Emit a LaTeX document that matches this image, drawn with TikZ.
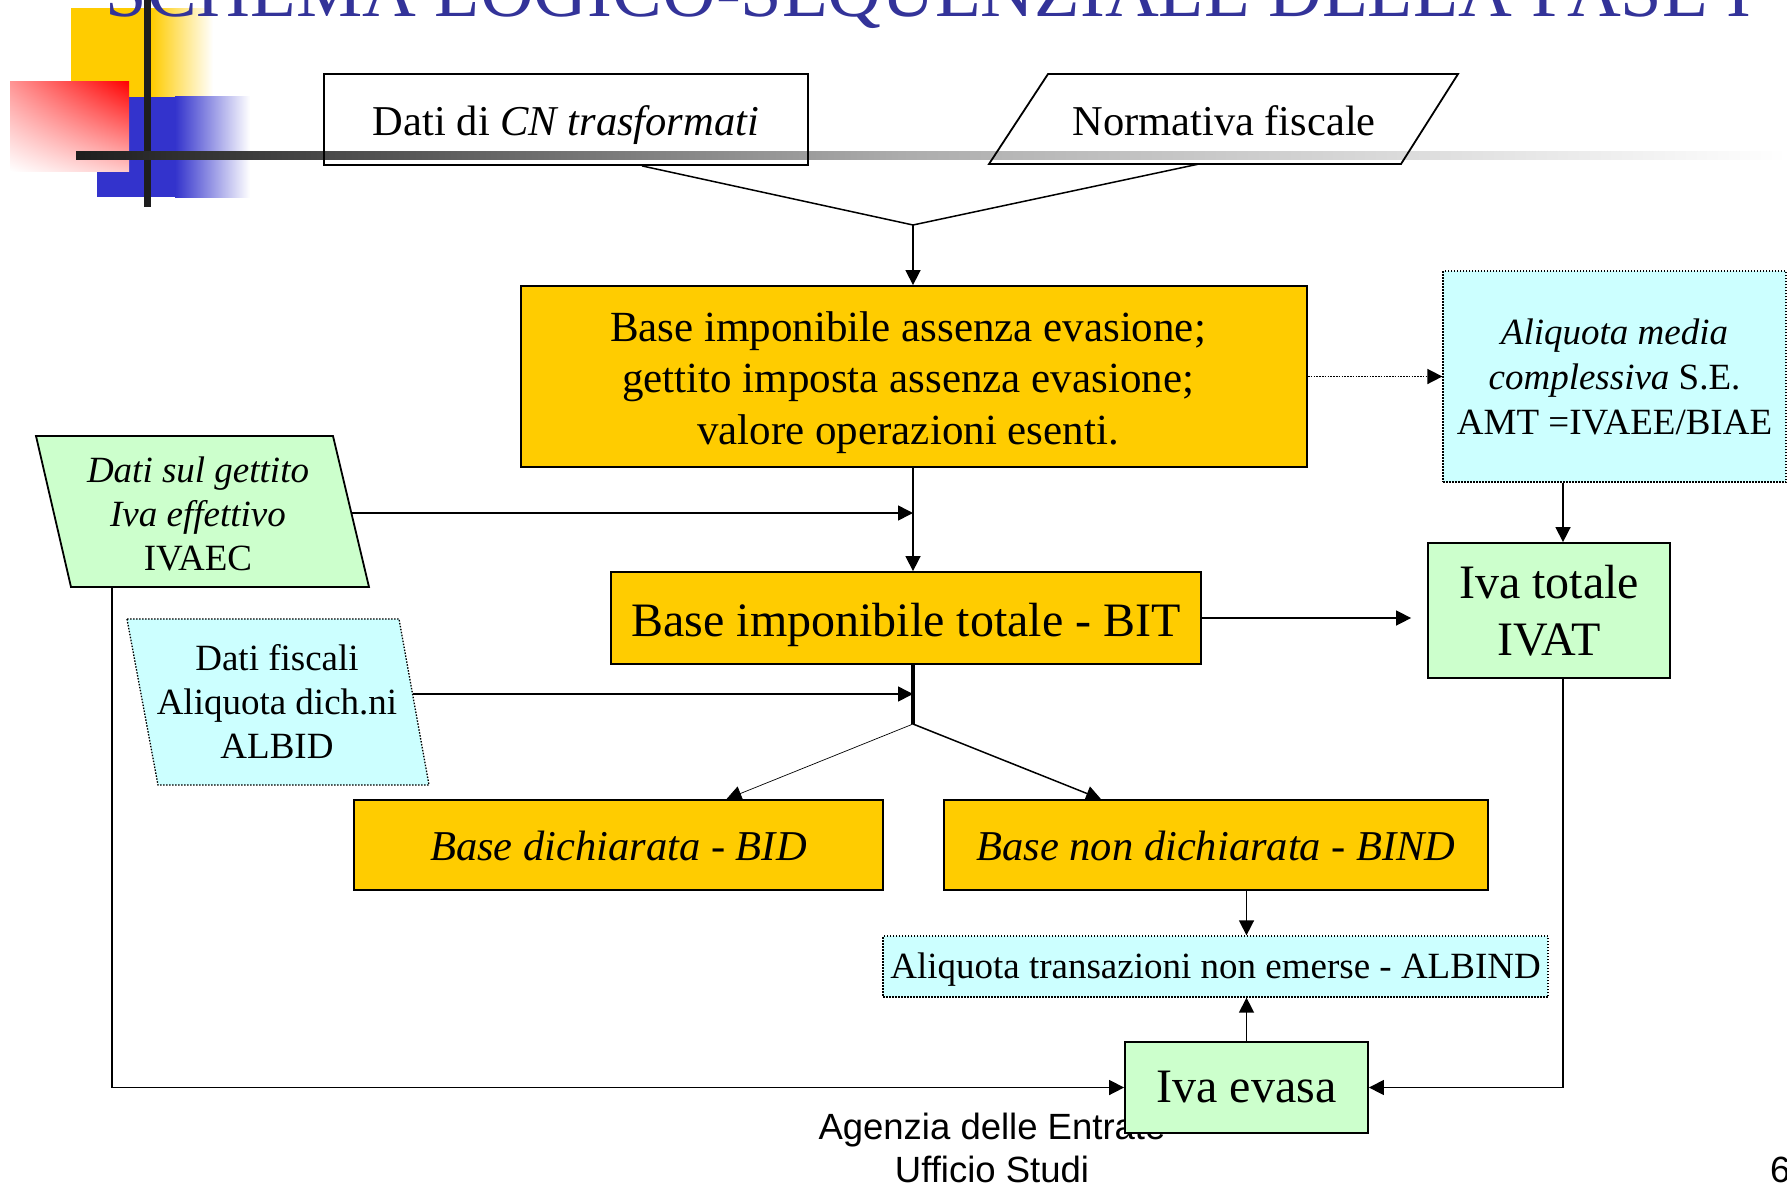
\documentclass[tikz,border=0pt]{standalone}
\usepackage{fontspec}
\setmainfont{Liberation Serif}
\newfontfamily\footfont{Liberation Sans}
\usetikzlibrary{arrows.meta,calc,shadings}
\definecolor{orangebox}{HTML}{FFCC00}
\definecolor{greenbox}{HTML}{CCFFCC}
\definecolor{cyanbox}{HTML}{CCFFFF}
\definecolor{titleblue}{HTML}{333399}
\definecolor{decoblue}{HTML}{3333CC}
\definecolor{decodark}{HTML}{1E1E1E}
\definecolor{decomid}{HTML}{ACACAC}
\begin{document}
\begin{tikzpicture}[x=1pt,y=-1pt,
  box/.style={draw=black,line width=1.8pt,rectangle,inner sep=0pt,align=center},
  dotbox/.style={draw=black,line width=1.3pt,dash pattern=on 1.5pt off 1.5pt,rectangle,inner sep=0pt,align=center,fill=cyanbox},
  conn/.style={draw=black,line width=1.5pt},
  arr/.style={conn,-{Triangle[length=15pt,width=15pt]}},
  dotconn/.style={arr,line width=1.6pt,dash pattern=on 1.6pt off 1.2pt},
  txt/.style={inner sep=0pt,align=center},
  fbig/.style={font=\fontsize{48}{57}\selectfont},
  fmid/.style={font=\fontsize{42.5}{51.5}\selectfont},
  fsmall/.style={font=\fontsize{37}{44}\selectfont}
]
\useasboundingbox (0,0) rectangle (1787,1189);

% decoration
\fill[orangebox] (71,8) rectangle (151,97);
\shade[left color=orangebox,right color=white] (151,8) rectangle (213,97);
\fill[decoblue] (97,97) rectangle (175,197);
\shade[left color=decoblue,right color=white] (175,96) rectangle (250,197);
\shade[upper right=red,upper left=red!42,lower right=red!22,lower left=white] (10,81) rectangle (129,171);
\node[anchor=base,inner sep=0pt,text=titleblue,font=\fontsize{74.5}{80}\selectfont] (title) at (928.5,16) {SCHEMA LOGICO-SEQUENZIALE DELLA FASE I};
\fill[decodark] (144,0) rectangle (151,207);
\shade[left color=decodark,right color=decomid] (76,151) rectangle (900,159);
\shade[left color=decomid,right color=white] (900,151) rectangle (1787,159);

% top inputs
\node[box,fmid,minimum width=484pt,minimum height=91pt,text height=31pt,text depth=0pt] (cn) at (566,119.5) {Dati di \textit{CN trasformati}};
\draw[line width=1.8pt] (1048,74) -- (1458,74) -- (1401,164) -- (989,164) -- cycle;
\node[txt,fmid,anchor=base] (norm) at (1224,135) {Normativa fiscale};
\coordinate (normbot) at (1199,164);
\coordinate (j1) at (913,225);

% main boxes
\node[box,fill=orangebox,minimum width=786pt,minimum height=181pt] (big) at (914,376.5) {};
\node[txt,font=\fontsize{43}{51.5}\selectfont] (bigtext) at (908,382.5) {Base imponibile assenza evasione;\\gettito imposta assenza evasione;\\valore operazioni esenti.};
\node[dotbox,font=\fontsize{37}{45}\selectfont,minimum width=343pt,minimum height=211pt] (alq) at (1614.5,376.5) {\textit{Aliquota media}\\\textit{complessiva} S.E.\\AMT =IVAEE/BIAE};
\node[box,fill=greenbox,fbig,minimum width=242pt,minimum height=135pt] (ivat) at (1549,610.5) {Iva totale\\IVAT};

% left parallelograms
\draw[line width=1.8pt,fill=greenbox] (36,436) -- (333,436) -- (369,587) -- (71,587) -- cycle;
\node[txt,fsmall] (gett) at (198,513.5) {\textit{Dati sul gettito}\\\textit{Iva effettivo}\\IVAEC};
\coordinate (gettR) at (351.4,513);
\coordinate (gettB) at (112,587);
\draw[line width=1.3pt,dash pattern=on 1.5pt off 1.5pt,fill=cyanbox] (127,619) -- (399,619) -- (429,785) -- (158,785) -- cycle;
\node[txt,fsmall] (fisc) at (277,701.5) {Dati fiscali\\Aliquota dich.ni\\ALBID};
\coordinate (fiscR) at (412.6,694);

\node[box,fill=orangebox,fbig,minimum width=590pt,minimum height=92pt,text height=36pt,text depth=0pt] (bit) at (906,618) {Base imponibile totale - BIT};
\node[box,fill=orangebox,fmid,minimum width=529pt,minimum height=90pt,text height=30pt,text depth=0pt] (bid) at (618.5,845) {\textit{Base dichiarata - BID}};
\node[box,fill=orangebox,fmid,minimum width=544pt,minimum height=90pt,text height=30pt,text depth=0pt] (bind) at (1216,845) {\textit{Base non dichiarata - BIND}};
\node[dotbox,fsmall,minimum width=665pt,minimum height=61pt,text height=23pt,text depth=0pt] (albind) at (1215.5,966.5) {Aliquota transazioni non emerse - ALBIND};

% footer (under the Iva evasa box)
\node[txt,font=\footfont\fontsize{36.5}{42.5}\selectfont] (foot) at (992,1148) {Agenzia delle Entrate\\Ufficio Studi};
\node[txt,anchor=base west,font=\footfont\fontsize{36.5}{42.5}\selectfont] (pagenum) at (1770,1182) {6};

\node[box,fill=greenbox,fbig,minimum width=243pt,minimum height=91pt,text height=29pt,text depth=0pt] (ive) at (1246.5,1087.5) {Iva evasa};

% connectors
\draw[conn] ([xshift=76pt]cn.south) -- (j1);
\draw[conn] (normbot) -- (j1);
\draw[arr] (j1) -- (j1 |- big.north);
\draw[dotconn] (big.east) -- (alq.west);
\coordinate (ivtop) at ([xshift=14pt]ivat.north);
\coordinate (ivbot) at ([xshift=14pt]ivat.south);
\draw[arr] (ivtop |- alq.south) -- (ivtop);
\draw[arr] (j1 |- big.south) -- (j1 |- bit.north);
\draw[arr] (gettR) -- (gettR -| j1);
\draw[arr] (fiscR) -- (fiscR -| j1);
\coordinate (j2) at (913,724);
\draw[conn,line width=3.2pt] (j2 |- bit.south) -- (j2);
\draw[arr,line width=0.7pt] (j2) -- ([xshift=108pt]bid.north);
\draw[arr] (j2) -- ([xshift=-115pt]bind.north);
\coordinate (ivatin) at ([xshift=-16pt]ivat.west);
\draw[arr] (bit.east) -- (bit.east -| ivatin);
\draw[arr] (ive.north |- bind.south) -- (ive.north |- albind.north);
\draw[arr] (ive.north) -- (ive.north |- albind.south);
\draw[arr] (gettB) |- (ive.west);
\draw[arr] (ivbot) |- (ive.east);
\end{tikzpicture}
\end{document}
